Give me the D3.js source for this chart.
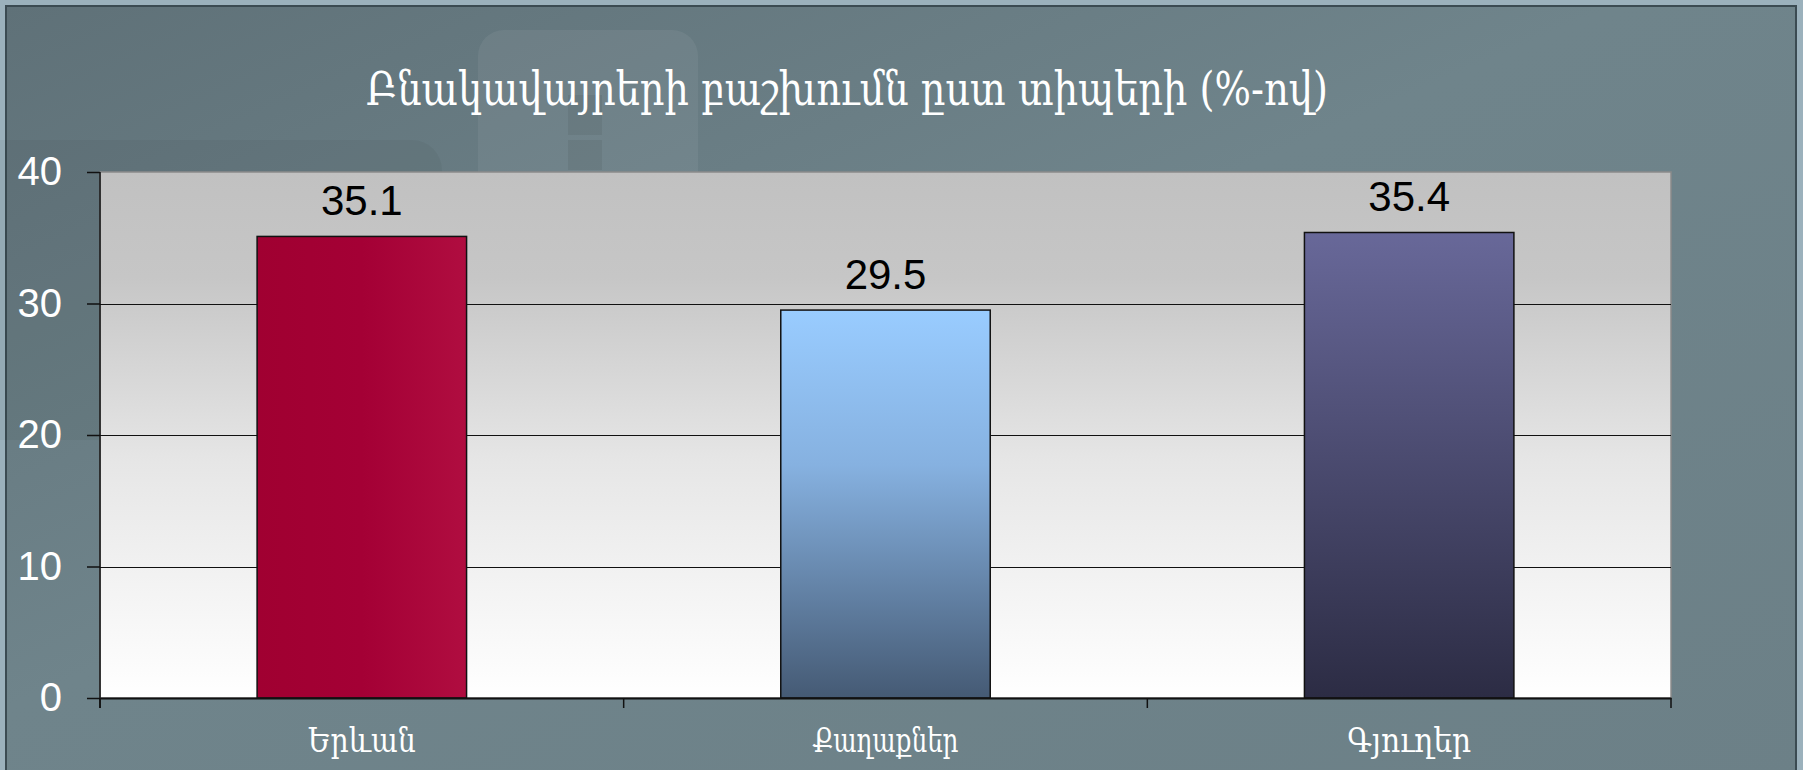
<!DOCTYPE html>
<html>
<head>
<meta charset="utf-8">
<script src="https://cdn.jsdelivr.net/npm/d3@7"></script>
<style>
  html, body { margin: 0; padding: 0; background: #9bb1bc; }
  svg { display: block; }
</style>
</head>
<body>
<svg id="chart" width="1803" height="770"></svg>
<script>
const titleText = "Բնակավայրերի բաշխումն ըստ տիպերի (%-ով)";
const categories = ["Երևան", "Քաղաքներ", "Գյուղեր"];
const values = [35.1, 29.5, 35.4];
const yTicks = [0, 10, 20, 30, 40];
const gridTicks = [10, 20, 30];

const svg = d3.select("#chart");
const W = 1803, H = 770;
const plot = { left: 100, right: 1671, top: 172, bottom: 698 };

const defs = svg.append("defs");
const pg = defs.append("linearGradient").attr("id", "panelGrad")
  .attr("x1", "0").attr("y1", "0").attr("x2", "1").attr("y2", "1");
pg.append("stop").attr("offset", "0").attr("stop-color", "#5f7178");
pg.append("stop").attr("offset", "0.45").attr("stop-color", "#6f848b");
pg.append("stop").attr("offset", "1").attr("stop-color", "#6c8087");

const ag = defs.append("linearGradient").attr("id", "areaGrad")
  .attr("x1", "0").attr("y1", "0").attr("x2", "0").attr("y2", "1");
ag.append("stop").attr("offset", "0").attr("stop-color", "#c1c1c1");
ag.append("stop").attr("offset", "0.2").attr("stop-color", "#c6c6c6");
ag.append("stop").attr("offset", "0.55").attr("stop-color", "#e6e6e6");
ag.append("stop").attr("offset", "1").attr("stop-color", "#ffffff");

const g1 = defs.append("linearGradient").attr("id", "bar0")
  .attr("x1", "0").attr("y1", "0").attr("x2", "1").attr("y2", "0");
g1.append("stop").attr("offset", "0").attr("stop-color", "#a00031");
g1.append("stop").attr("offset", "0.5").attr("stop-color", "#a40035");
g1.append("stop").attr("offset", "1").attr("stop-color", "#b00d40");

const g2 = defs.append("linearGradient").attr("id", "bar1")
  .attr("x1", "0").attr("y1", "0").attr("x2", "0").attr("y2", "1");
g2.append("stop").attr("offset", "0").attr("stop-color", "#99ccff");
g2.append("stop").attr("offset", "0.4").attr("stop-color", "#86b1e0");
g2.append("stop").attr("offset", "1").attr("stop-color", "#455a74");

const g3 = defs.append("linearGradient").attr("id", "bar2")
  .attr("x1", "0").attr("y1", "0").attr("x2", "0").attr("y2", "1");
g3.append("stop").attr("offset", "0").attr("stop-color", "#686899");
g3.append("stop").attr("offset", "1").attr("stop-color", "#2c2c44");

svg.append("rect").attr("x", 0).attr("y", 0).attr("width", W).attr("height", H).attr("fill", "#9bb1bc");
svg.append("rect").attr("x", 6).attr("y", 6).attr("width", 1790).attr("height", 780)
  .attr("fill", "url(#panelGrad)").attr("stroke", "#3b4b52").attr("stroke-width", 2);

// faint decorations of the slide background
svg.append("rect").attr("x", 478).attr("y", 30).attr("width", 220).attr("height", 200).attr("rx", 26)
  .attr("fill", "#ffffff").attr("opacity", 0.06);
svg.append("rect").attr("x", 568).attr("y", 95).attr("width", 34).attr("height", 40)
  .attr("fill", "#000000").attr("opacity", 0.06);
svg.append("rect").attr("x", 568).attr("y", 140).attr("width", 34).attr("height", 30)
  .attr("fill", "#000000").attr("opacity", 0.06);
svg.append("rect").attr("x", -40).attr("y", 140).attr("width", 482).attr("height", 300).attr("rx", 30)
  .attr("fill", "#000000").attr("opacity", 0.04);

svg.append("text")
  .attr("x", 847).attr("y", 105)
  .attr("text-anchor", "middle")
  .attr("textLength", 962).attr("lengthAdjust", "spacingAndGlyphs")
  .attr("font-family", "'DejaVu Serif', serif")
  .attr("font-size", 46)
  .attr("fill", "#ffffff")
  .text(titleText);

const x = d3.scaleBand().domain(categories).range([plot.left, plot.right]).padding(0);
const y = d3.scaleLinear().domain([0, 40]).range([plot.bottom, plot.top]);

svg.append("rect")
  .attr("x", plot.left).attr("y", plot.top)
  .attr("width", plot.right - plot.left).attr("height", plot.bottom - plot.top)
  .attr("fill", "url(#areaGrad)").attr("stroke", "#8a8a8a").attr("stroke-width", 1.5);

svg.append("g")
  .selectAll("line").data(gridTicks).join("line")
  .attr("x1", plot.left).attr("x2", plot.right)
  .attr("y1", d => Math.round(y(d)) + 0.5).attr("y2", d => Math.round(y(d)) + 0.5)
  .attr("stroke", "#111").attr("stroke-width", 1.2);

const bw = x.bandwidth() * 0.4;
svg.append("g")
  .selectAll("rect").data(values).join("rect")
  .attr("x", (d, i) => x(categories[i]) + (x.bandwidth() - bw) / 2)
  .attr("y", d => y(d))
  .attr("width", bw)
  .attr("height", d => plot.bottom - y(d))
  .attr("fill", (d, i) => `url(#bar${i})`)
  .attr("stroke", "#111").attr("stroke-width", 1.5);

svg.append("g")
  .selectAll("text").data(values).join("text")
  .attr("x", (d, i) => x(categories[i]) + x.bandwidth() / 2)
  .attr("y", d => y(d) - 21)
  .attr("text-anchor", "middle")
  .attr("font-family", "'Liberation Sans', Arial, sans-serif")
  .attr("font-size", 42)
  .attr("fill", "#000")
  .text(d => d.toFixed(1));

const yAxis = svg.append("g")
  .attr("transform", `translate(${plot.left},0)`)
  .call(d3.axisLeft(y).tickValues(yTicks).tickSize(13).tickPadding(25).tickFormat(d3.format("d")));
yAxis.select(".domain").remove();
yAxis.selectAll(".tick line").attr("stroke", "#111").attr("stroke-width", 1.5);
yAxis.selectAll(".tick text")
  .attr("font-family", "'Liberation Sans', Arial, sans-serif")
  .attr("font-size", 40).attr("fill", "#ffffff");
svg.append("line")
  .attr("x1", plot.left).attr("x2", plot.left)
  .attr("y1", plot.top).attr("y2", plot.bottom + 10)
  .attr("stroke", "#111").attr("stroke-width", 1.5);

const xAxis = svg.append("g")
  .attr("transform", `translate(0,${plot.bottom})`)
  .call(d3.axisBottom(x).tickSize(0));
xAxis.select(".domain").attr("stroke", "#111").attr("stroke-width", 2);
const xLens = [108, 146, 124];
xAxis.selectAll(".tick text")
  .attr("y", 54).attr("dy", 0)
  .attr("font-family", "'DejaVu Serif', serif")
  .attr("font-size", 34).attr("fill", "#ffffff")
  .each(function (d, i) {
    d3.select(this).attr("textLength", xLens[i]).attr("lengthAdjust", "spacingAndGlyphs");
  });
const bounds = categories.map(c => x(c)).concat([plot.right]);
svg.append("g").selectAll("line").data(bounds).join("line")
  .attr("x1", d => d).attr("x2", d => d)
  .attr("y1", plot.bottom).attr("y2", plot.bottom + 10)
  .attr("stroke", "#111").attr("stroke-width", 1.5);
</script>
</body>
</html>
